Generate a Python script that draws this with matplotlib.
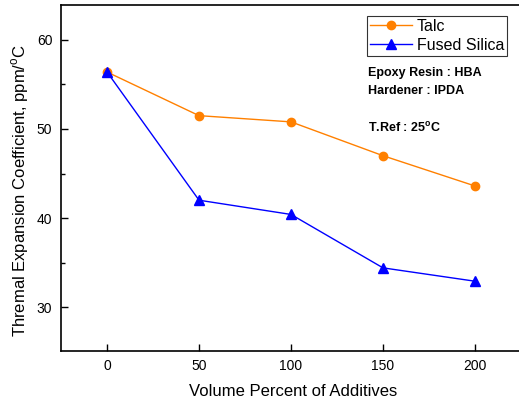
import matplotlib
matplotlib.use("Agg")
import matplotlib.pyplot as plt
from matplotlib.ticker import MultipleLocator

plt.rcParams['font.family'] = ['Liberation Sans', 'DejaVu Sans']
plt.rcParams['mathtext.fontset'] = 'custom'
plt.rcParams['mathtext.rm'] = 'Liberation Sans'
plt.rcParams['mathtext.bf'] = 'Liberation Sans:bold'

volume = [0, 50, 100, 150, 200]
talc = [56.4, 51.5, 50.8, 47.0, 43.6]
fused_silica = [56.4, 42.0, 40.4, 34.4, 32.9]
x_ticks = [0, 50, 100, 150, 200]
y_ticks = [30, 40, 50, 60]

fig = plt.figure(figsize=(5.19, 4.0), dpi=100)
ax = fig.add_axes([60.7/519, 49/400, (525-60.7)/519, 346/400])

ax.plot(volume, talc, color='#FF8000', lw=1.0, marker='o', ms=6, label='Talc')
ax.plot(volume, fused_silica, color='#0000FF', lw=1.0, marker='^', ms=6.5, label='Fused Silica')

ax.set_xlim(-25.2, 227.2)
ax.set_ylim(25.06, 63.93)
ax.set_xticks(x_ticks)
ax.set_yticks(y_ticks)
ax.yaxis.set_minor_locator(MultipleLocator(5))
ax.tick_params(axis='both', which='major', direction='in', length=5, width=1, labelsize=10, pad=6)
ax.tick_params(axis='y', which='minor', direction='in', length=3, width=1)
for s in ax.spines.values():
    s.set_linewidth(1.2)

ax.set_xlabel('Volume Percent of Additives', fontsize=12, labelpad=8)
ax.set_ylabel(r'Thremal Expansion Coefficient, ppm/$^{\mathrm{o}}$C', fontsize=12)
ax.yaxis.set_label_coords(-0.064, 0.465)

leg = fig.legend(loc='upper left', bbox_to_anchor=(367/519, 1 - 15.7/400), fontsize=11.5,
                 frameon=True, fancybox=False, edgecolor='black', handlelength=2.6,
                 borderpad=0.2, labelspacing=0.25, handletextpad=0.3, borderaxespad=0)
leg.get_frame().set_linewidth(0.8)

fig.text(368/519, 1 - 73/400, 'Epoxy Resin : HBA', fontsize=9, fontweight='bold', va='center')
fig.text(368/519, 1 - 91/400, 'Hardener : IPDA', fontsize=9, fontweight='bold', va='center')
fig.text(368/519, 1 - 128/400, r'T.Ref : 25$^{\mathbf{o}}$C', fontsize=9, fontweight='bold', va='center')

fig.savefig('out.png', dpi=100)
